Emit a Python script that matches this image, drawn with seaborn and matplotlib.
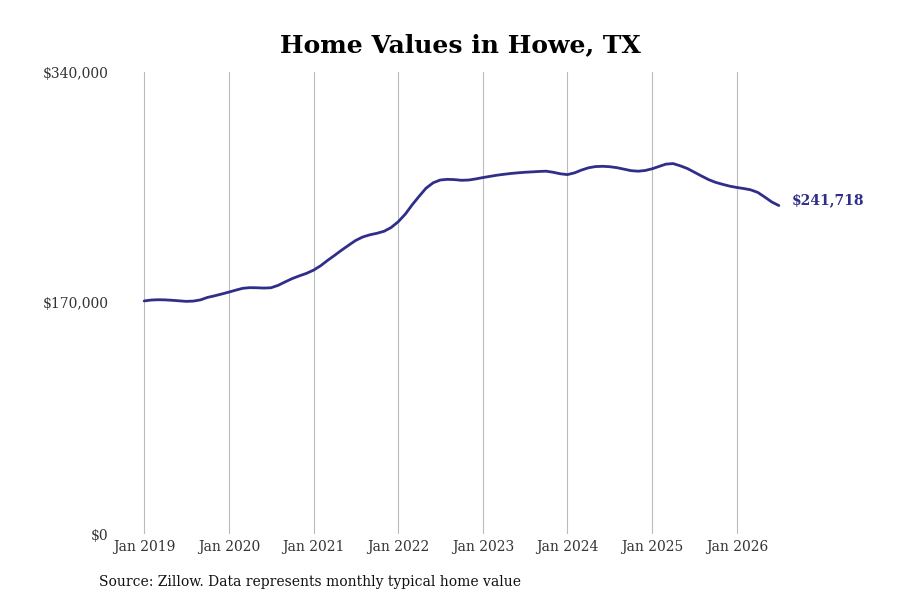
import matplotlib
matplotlib.use("Agg")
import matplotlib.pyplot as plt
import matplotlib.dates as mdates
from matplotlib import font_manager
import seaborn as sns
import pandas as pd

# monthly typical home value, Jan 2019 - Jul 2026
values_2019 = [171500, 172200, 172400, 172300, 172000, 171600, 171200, 171400, 172300, 174100, 175300, 176600]
values_2020 = [178000, 179500, 180800, 181300, 181200, 181000, 181200, 183000, 185600, 188000, 190000, 191800]
values_2021 = [194200, 197500, 201200, 205000, 208800, 212500, 216000, 218600, 220200, 221300, 222800, 225500]
values_2022 = [229800, 235500, 242000, 248500, 254500, 258500, 260500, 261000, 260800, 260300, 260500, 261300]
values_2023 = [262300, 263200, 264000, 264700, 265300, 265800, 266200, 266500, 266800, 267000, 266200, 265100]
values_2024 = [264500, 265800, 267800, 269500, 270400, 270600, 270300, 269600, 268500, 267400, 267000, 267500]
values_2025 = [268800, 270600, 272200, 272600, 271000, 269000, 266300, 263500, 260800, 258800, 257300, 256000]
values_2026 = [255000, 254200, 253300, 251400, 248000, 244300, 241718]

values = (values_2019 + values_2020 + values_2021 + values_2022
          + values_2023 + values_2024 + values_2025 + values_2026)
dates = pd.date_range("2019-01-01", periods=len(values), freq="MS")
tick_years = list(range(2019, 2027))
y_ticks = [0, 170000, 340000]

title = "Home Values in Howe, TX"
source = "Source: Zillow. Data represents monthly typical home value"
line_color = "#2f2e88"

df = pd.DataFrame({"date": dates, "value": values})

sns.set_theme(style="white")
names = {f.name for f in font_manager.fontManager.ttflist}
tick_family = ["DejaVu Serif Condensed", "DejaVu Serif"] if "DejaVu Serif Condensed" in names else ["DejaVu Serif"]
plt.rcParams["font.family"] = tick_family

fig = plt.figure(figsize=(9, 6), dpi=100)
ax = fig.add_axes([0.128, 0.11, 0.75, 0.77])

sns.lineplot(data=df, x="date", y="value", color=line_color, linewidth=2.0, ax=ax)

ax.set_ylim(0, 340000)
ax.set_xlim(pd.Timestamp("2018-08-29"), pd.Timestamp("2026-08-19"))
ax.set_yticks(y_ticks)
ax.set_yticklabels([f"${v:,.0f}" for v in y_ticks])
ax.set_xticks([pd.Timestamp(f"{y}-01-01") for y in tick_years])
ax.xaxis.set_major_formatter(mdates.DateFormatter("Jan %Y"))
ax.tick_params(axis="both", length=0, labelsize=10, colors="#333333")
ax.tick_params(axis="x", pad=4)
ax.tick_params(axis="y", pad=5)
ax.grid(axis="x", color="#bbbbbb", linewidth=0.8)
ax.grid(axis="y", visible=False)
for s in ax.spines.values():
    s.set_visible(False)
ax.set_xlabel("")
ax.set_ylabel("")

ax.annotate(f"${values[-1]:,.0f}", xy=(dates[-1], values[-1]), xytext=(9, 3.5),
            textcoords="offset points", color=line_color, fontsize=10,
            fontweight="bold", va="center", ha="left", family=["DejaVu Serif"])

fig.text(0.512, 0.925, title, ha="center", va="center", fontsize=18,
         fontweight="bold", color="black", family=["DejaVu Serif"])
fig.text(0.11, 0.03, source, ha="left", va="center", fontsize=10, color="#111111")

fig.savefig("out.png", dpi=100)
